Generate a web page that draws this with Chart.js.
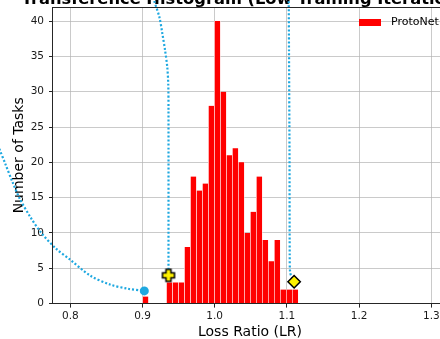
<!DOCTYPE html>
<html lang="en">
<head>
<meta charset="UTF-8">
<title>Transference Histogram</title>
<style>
  html, body { margin: 0; padding: 0; background: #fff; overflow: hidden; }
  #wrap { position: relative; width: 440px; height: 339px; overflow: hidden; }
  #chart { position: absolute; left: 0; top: -20px; }
</style>
<script src="https://cdn.jsdelivr.net/npm/chart.js@4"></script>
</head>
<body>
<div id="wrap"><canvas id="chart" width="500" height="359"></canvas></div>
<script>
// histogram bins (centres) and counts
const binCenters = [0.90415, 0.93735, 0.94565, 0.95395, 0.96225, 0.97055, 0.97885, 0.98715,
                    0.99545, 1.00375, 1.01205, 1.02035, 1.02865, 1.03695, 1.04525, 1.05355,
                    1.06185, 1.07015, 1.07845, 1.08675, 1.09505, 1.10335, 1.11165];
const taskCounts = [1, 3, 3, 3, 8, 18, 16, 17, 28, 40, 30, 21, 22, 20, 10, 13, 18, 9, 6, 9, 2, 2, 2];

const xTicks = [0.8, 0.9, 1.0, 1.1, 1.2, 1.3];
const yTicks = [0, 5, 10, 15, 20, 25, 30, 35, 40];

// dotted curves
const startCurveX = [0.698, 0.7026, 0.7096, 0.720, 0.7303, 0.745, 0.760, 0.780, 0.800, 0.827, 0.855, 0.880, 0.9025];
const startCurveY = [23.0, 21.7, 19.9, 17.2, 14.8, 12.2, 10.0, 7.8, 6.2, 4.0, 2.7, 2.1, 1.8];
const lowCurveX = [0.913, 0.9159, 0.9233, 0.9274, 0.9312, 0.9343, 0.9357, 0.936, 0.936, 0.936];
const lowCurveY = [44.5, 43.0, 40.6, 38.3, 35.9, 33.5, 31.0, 27.4, 5.0, 4.0];
const highCurveX = [1.1022, 1.1025, 1.1029, 1.1036, 1.1039, 1.1045, 1.107, 1.110];
const highCurveY = [44.5, 43.0, 35.9, 21.7, 6.9, 4.4, 3.7, 3.1];

// markers
const startPoint = [0.9025, 1.8];
const lowPoint = [0.936, 4.0];
const highPoint = [1.110, 3.1];

const titleText = 'Transference Histogram (Low Training Iterations)';
const seriesName = 'ProtoNet';

const FONT = '"DejaVu Sans", sans-serif';
const BLUE = '#1ea8e0';
const YELLOW = '#fff200';

function zip(xs, ys) { return xs.map((x, i) => ({ x: x, y: ys[i] })); }

function plusMarker(size, arm) {
  const c = document.createElement('canvas');
  c.width = c.height = size + 4;
  const g = c.getContext('2d');
  const m = c.width / 2, h = size / 2, t = arm / 2;
  g.beginPath();
  g.moveTo(m - t, m - h); g.lineTo(m + t, m - h); g.lineTo(m + t, m - t);
  g.lineTo(m + h, m - t); g.lineTo(m + h, m + t); g.lineTo(m + t, m + t);
  g.lineTo(m + t, m + h); g.lineTo(m - t, m + h); g.lineTo(m - t, m + t);
  g.lineTo(m - h, m + t); g.lineTo(m - h, m - t); g.lineTo(m - t, m - t);
  g.closePath();
  g.fillStyle = YELLOW; g.fill();
  g.lineWidth = 1.5; g.strokeStyle = '#000'; g.stroke();
  return c;
}

const dotted = {
  type: 'line', borderColor: BLUE, borderWidth: 2.2, borderDash: [2, 2],
  pointRadius: 0, tension: 0.3, fill: false, clip: false, order: 2
};

const extras = {
  id: 'extras',
  beforeDatasetsDraw(chart) {
    const { ctx, chartArea: a } = chart;
    ctx.save();
    ctx.fillStyle = '#000';
    ctx.font = 'bold 16.3px ' + FONT;
    ctx.textAlign = 'center';
    ctx.textBaseline = 'alphabetic';
    ctx.fillText(titleText, (a.left + a.right) / 2 - 2, a.top - 3.5);
    ctx.restore();
  },
  afterDraw(chart) {
    const { ctx, chartArea: a } = chart;
    ctx.save();
    ctx.strokeStyle = '#262626';
    ctx.lineWidth = 1;
    ctx.strokeRect(Math.round(a.left) - 0.5, Math.round(a.top) + 0.5,
                   Math.round(a.right - a.left), Math.round(a.bottom - a.top) - 1);
    // legend
    ctx.fillStyle = chart.data.datasets[0].backgroundColor;
    ctx.fillRect(a.right - 88, a.top + 12, 22, 7);
    ctx.fillStyle = '#000';
    ctx.font = '11px ' + FONT;
    ctx.textAlign = 'left';
    ctx.textBaseline = 'middle';
    ctx.fillText(seriesName, a.right - 56, a.top + 15.5);
    ctx.restore();
  }
};

const gridOpts = {
  color: 'rgba(180,180,180,0.7)', lineWidth: 1,
  drawTicks: true, tickLength: 4, tickColor: '#262626', tickWidth: 1, offset: false
};

new Chart(document.getElementById('chart'), {
  type: 'bar',
  data: {
    datasets: [
      {
        label: seriesName, data: zip(binCenters, taskCounts),
        backgroundColor: '#ff0000', borderColor: '#ffffff',
        borderWidth: { left: 0.6, right: 0.6, top: 0, bottom: 0 },
        barPercentage: 1, categoryPercentage: 1, order: 3
      },
      Object.assign({ data: zip(startCurveX, startCurveY) }, dotted),
      Object.assign({ data: zip(lowCurveX, lowCurveY) }, dotted),
      Object.assign({ data: zip(highCurveX, highCurveY) }, dotted),
      {
        type: 'line', showLine: false, clip: false, order: 1,
        data: [{ x: startPoint[0], y: startPoint[1] }],
        pointStyle: 'circle', pointRadius: 4.5, pointBackgroundColor: BLUE, pointBorderWidth: 0
      },
      {
        type: 'line', showLine: false, clip: false, order: 1,
        data: [{ x: lowPoint[0], y: lowPoint[1] }],
        pointStyle: plusMarker(12, 5)
      },
      {
        type: 'line', showLine: false, clip: false, order: 1,
        data: [{ x: highPoint[0], y: highPoint[1] }],
        pointStyle: 'rectRot', pointRadius: 6.2, pointBackgroundColor: YELLOW,
        pointBorderColor: '#000', pointBorderWidth: 1.5
      }
    ]
  },
  options: {
    responsive: false,
    animation: false,
    events: [],
    layout: { padding: { left: 0, top: 27, right: 53, bottom: 0 } },
    plugins: { legend: { display: false }, tooltip: { enabled: false }, title: { display: false } },
    scales: {
      x: {
        type: 'linear', bounds: 'data', offset: false, z: 1,
        // range set here (not via min/max) so the dotted curves are not trimmed to the axis range
        afterDataLimits: s => { s.min = 0.77604; s.max = 1.32175; },
        afterBuildTicks: s => { s.ticks = xTicks.map(v => ({ value: v })); },
        afterFit: s => { s.height = 35.4; },
        grid: gridOpts,
        border: { display: false },
        ticks: {
          color: '#1a1a1a', font: { family: FONT, size: 10.5 }, padding: 2,
          maxRotation: 0, callback: v => v.toFixed(1)
        },
        title: {
          display: true, text: 'Loss Ratio (LR)', color: '#000',
          font: { family: FONT, size: 14, lineHeight: 1 }, padding: { top: 0, bottom: 0 }
        }
      },
      y: {
        type: 'linear', min: 0, max: 42, z: 1,
        afterBuildTicks: s => { s.ticks = yTicks.map(v => ({ value: v })); },
        afterFit: s => { s.width = 53; },
        grid: gridOpts,
        border: { display: false },
        ticks: { color: '#1a1a1a', font: { family: FONT, size: 10.5 }, padding: 5 },
        title: {
          display: true, text: 'Number of Tasks', color: '#000',
          font: { family: FONT, size: 14, lineHeight: 1 }, padding: { top: 12, bottom: 0 }
        }
      }
    }
  },
  plugins: [extras]
});
</script>
</body>
</html>
